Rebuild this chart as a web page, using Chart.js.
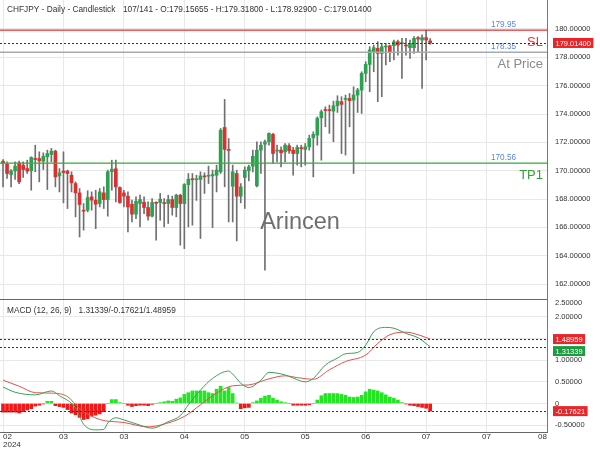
<!DOCTYPE html>
<html><head><meta charset="utf-8">
<script src="https://cdn.jsdelivr.net/npm/chart.js@4.4.1/dist/chart.umd.min.js"></script>
<style>
html,body{margin:0;padding:0;background:#fff;width:600px;height:450px;overflow:hidden}
canvas{position:absolute;left:0}
#c1{top:0}
#c2{top:300px}
</style></head><body>
<canvas id="c1" width="600" height="300"></canvas>
<canvas id="c2" width="600" height="150"></canvas>
<script>
// ---------------- DATA ----------------
const symbolTitle = 'CHFJPY - Daily - Candlestick';
const barInfo = '107/141 - O:179.15655 - H:179.31800 - L:178.92900 - C:179.01400';
const macdTitle = 'MACD (12, 26, 9)   1.31339/-0.17621/1.48959';
const watermark = 'Arincen';

const opens = [
170.67,170.46,169.73,169.99,170.55,170.39,170.15,169.99,170.86,170.86,
170.67,170.98,171.14,171.38,169.63,169.97,169.97,169.68,169.09,168.43,
167.21,167.21,168.15,167.92,167.68,168.43,167.96,169.92,170.13,168.81,
168.43,168.20,167.63,166.93,167.68,167.77,167.40,166.79,167.75,167.75,
167.75,167.68,167.96,167.40,168.27,167.68,169.02,169.40,169.36,169.38,
169.58,169.61,169.63,169.68,169.92,173.05,171.45,168.90,169.80,168.20,
169.52,169.99,170.32,168.93,171.45,171.87,172.04,172.56,171.38,171.45,
171.33,171.76,171.45,171.21,171.60,171.50,171.69,172.32,172.51,173.73,
174.30,174.30,174.20,174.58,174.87,175.03,175.10,174.98,175.34,175.69,
176.87,177.50,178.40,178.63,178.28,178.73,178.82,178.82,179.10,178.97,
178.85,178.68,178.68,179.39,179.22,179.39,179.15655];
const highs = [
170.79,170.62,170.08,170.62,170.67,170.62,170.74,170.98,171.80,171.33,
171.26,171.45,171.57,171.45,170.15,171.33,170.04,169.92,169.21,168.74,
167.68,168.58,168.50,168.62,168.74,168.86,170.04,170.74,170.74,168.86,
168.62,168.50,167.92,168.15,168.27,168.15,167.80,168.03,167.80,168.39,
168.03,168.27,168.20,168.34,168.34,169.09,169.80,169.80,169.68,169.92,
169.85,170.32,170.04,170.39,172.98,175.03,172.27,170.39,170.04,169.09,
170.27,170.39,171.45,172.04,172.04,172.16,172.67,172.63,171.80,171.69,
171.92,171.92,171.64,171.80,171.80,171.92,172.51,172.74,173.80,174.28,
174.51,174.63,174.91,175.29,175.22,175.34,175.45,175.92,175.81,176.98,
177.69,178.75,178.87,179.10,178.99,178.99,178.87,179.22,179.22,179.34,
179.34,179.22,179.46,179.46,179.58,179.93,179.318];
const lows = [
168.86,169.45,168.86,169.38,169.09,169.52,169.80,168.62,169.92,169.21,
170.08,168.67,170.62,168.86,168.50,167.73,167.33,168.50,166.74,165.32,
165.80,167.09,167.21,165.91,167.44,167.33,166.79,168.62,167.80,167.68,
167.44,165.68,166.38,166.62,166.03,166.97,166.50,166.74,165.09,166.50,
166.03,166.27,166.86,166.74,164.74,164.50,166.03,166.15,167.90,165.21,
168.39,169.09,165.98,168.50,169.80,168.86,166.38,166.38,165.04,167.73,
167.33,169.28,169.92,168.86,169.80,162.97,171.80,170.51,170.62,170.27,
170.62,171.21,169.68,170.39,170.27,170.39,171.45,169.56,171.80,170.74,
173.10,172.63,172.04,174.11,171.21,171.10,173.10,169.80,174.11,174.04,
176.28,175.57,176.98,174.87,175.22,177.46,177.69,177.81,178.16,176.51,
178.16,177.93,178.28,178.40,175.81,177.81,178.929];
const closes = [
170.51,169.80,169.99,170.32,169.21,170.08,169.97,170.93,170.79,170.69,
171.02,171.21,171.38,169.56,169.85,169.87,169.80,169.14,168.43,167.61,
167.14,168.10,167.92,167.63,168.50,167.96,169.92,170.11,168.86,167.75,
168.20,167.44,166.93,167.84,167.96,167.40,166.79,167.75,167.70,167.99,
167.68,167.96,167.40,168.27,167.68,169.02,169.40,169.36,169.40,169.63,
169.56,169.65,169.73,170.04,172.86,171.50,171.43,169.92,168.20,168.86,
170.04,170.27,171.02,171.45,171.80,172.04,172.63,171.21,171.40,171.26,
171.80,171.40,171.21,171.64,171.55,171.69,172.27,172.56,173.69,174.16,
174.25,174.24,174.58,174.91,174.68,175.08,174.94,175.34,175.69,176.87,
177.50,178.52,178.68,178.28,178.75,178.77,178.40,179.10,178.87,179.01,
178.80,178.99,179.34,179.29,179.39,179.22,179.014];

const lastPrice = 179.014;
const levelNames = ['SL', 'At Price', 'TP1'];
const levelValues = [179.95, 178.35, 170.56];

const priceTicks = [162, 164, 166, 168, 170, 172, 174, 176, 178, 180];
const xTickIdx = [0, 15, 30, 45, 60, 75, 90, 105, 120, 135];
const xTickLabels = ['02', '03', '03', '04', '05', '05', '06', '07', '07', '08'];
const yearLabel = '2024';

const histogram = [
-0.20,-0.20,-0.20,-0.20,-0.22,-0.19,-0.15,-0.12,-0.06,-0.04,
-0.01,0.05,0.05,-0.05,-0.07,-0.09,-0.14,-0.22,-0.26,-0.32,
-0.37,-0.35,-0.29,-0.27,-0.24,-0.19,0.00,0.09,0.09,0.02,
0.00,-0.04,-0.07,-0.05,-0.04,-0.04,-0.05,-0.02,0.00,0.02,
0.04,0.06,0.05,0.10,0.13,0.21,0.25,0.29,0.29,0.29,
0.29,0.25,0.23,0.33,0.40,0.29,0.37,0.23,0.01,-0.12,
-0.10,-0.09,0.02,0.06,0.12,0.17,0.19,0.12,0.08,0.04,
0.02,0.00,-0.04,-0.04,-0.04,-0.04,-0.03,0.00,0.08,0.18,
0.23,0.23,0.23,0.23,0.21,0.19,0.15,0.14,0.15,0.19,
0.27,0.33,0.31,0.29,0.25,0.20,0.15,0.12,0.08,0.02,
-0.01,-0.04,-0.05,-0.07,-0.09,-0.11,-0.17621];
const macdIdx = [0,3,8,12,14,18,20,23,25,26,28,30,33,37,41,44,46,49,52,56,57,59,61,64,66,70,72,75,77,80,83,85,88,90,92,95,97,100,103,106];
const macdVal = [0.38,0.26,0.20,0.29,0.18,-0.10,-0.48,-0.61,-0.60,-0.45,-0.33,-0.38,-0.47,-0.57,-0.42,-0.28,-0.03,0.31,0.58,0.75,0.68,0.47,0.37,0.54,0.72,0.66,0.59,0.50,0.58,0.89,1.05,1.15,1.18,1.35,1.66,1.76,1.74,1.62,1.52,1.31339];
const signalIdx = [0,4,8,12,16,19,24,30,36,39,45,49,53,57,61,66,70,73,77,81,85,90,93,96,100,103,106];
const signalVal = [0.54,0.40,0.25,0.24,0.16,-0.12,-0.37,-0.44,-0.54,-0.50,-0.30,-0.03,0.24,0.41,0.43,0.57,0.64,0.60,0.56,0.78,0.97,1.12,1.39,1.59,1.65,1.59,1.48959];
const macdTicks = [-0.5, 0, 0.5, 1, 1.5, 2];
const macdTopLabel = 2.5;
const macdLast = 1.31339, signalLast = 1.48959, histLast = -0.17621;

// ---------------- STYLE / LAYOUT ----------------
const FONT = '"Liberation Sans", Arial, Helvetica, sans-serif';
Chart.defaults.font.family = FONT;
const GREEN = '#2aa24f', RED = '#dc2f2f';
const GRID = '#e8e8e8';
const X_MIN = -0.75, X_MAX = 135;
const AXIS_W = 53;

function xScaleOpts(showLabels) {
  return {
    type: 'linear', min: X_MIN, max: X_MAX, offset: false,
    afterBuildTicks: s => { s.ticks = xTickIdx.map(v => ({ value: v })); },
    afterFit: s => { s.height = showLabels ? 18 : 0; s.paddingLeft = 0; s.paddingRight = 0; },
    grid: { color: GRID, drawTicks: false, offset: false },
    border: { display: showLabels, color: '#666', width: 1 },
    ticks: showLabels ? {
      display: true, autoSkip: false, maxRotation: 0, align: 'inner', padding: 1,
      color: '#333', font: { size: 8, lineHeight: 1.0 },
      callback: (v, i) => i === 0 ? [xTickLabels[i], yearLabel] : xTickLabels[i]
    } : { display: false }
  };
}
function yAfterFit(s) { s.width = AXIS_W; s.paddingTop = 0; s.paddingBottom = 0; }

const idx = opens.map((_, i) => i);

function drawTag(ctx, text, yc, color, x) {
  ctx.font = '7.5px ' + FONT;
  const w = ctx.measureText(text).width + 5;
  ctx.fillStyle = color;
  ctx.fillRect(x, yc - 5, w, 10);
  ctx.fillStyle = '#fff';
  ctx.textAlign = 'left'; ctx.textBaseline = 'middle';
  ctx.fillText(text, x + 2.5, yc + 0.5);
}

const LINE_COL = { 'SL': 'rgb(229,57,53)', 'At Price': 'rgb(170,170,170)', 'TP1': 'rgb(60,175,60)' };
const TEXT_COL = { 'SL': 'rgb(229,57,53)', 'At Price': 'rgb(138,138,138)', 'TP1': 'rgb(52,160,52)' };

const mainOverlay = {
  id: 'mainOverlay',
  beforeDatasetsDraw(chart) {
    const ctx = chart.ctx;
    ctx.save();
    ctx.font = '23.5px ' + FONT;
    ctx.fillStyle = 'rgba(95,95,95,0.9)';
    ctx.textAlign = 'center'; ctx.textBaseline = 'middle';
    ctx.fillText(watermark, 300, 223);
    ctx.restore();
  },
  afterDatasetsDraw(chart) {
    const { ctx, chartArea: a, scales: { y } } = chart;
    levelValues.forEach((v, k) => {
      const name = levelNames[k];
      const py = Math.round(y.getPixelForValue(v));
      ctx.save();
      ctx.setLineDash([]);
      ctx.fillStyle = LINE_COL[name];
      ctx.fillRect(a.left, py - 0.5, a.right - a.left, name === 'At Price' ? 1.5 : 1.3);
      ctx.font = '8.2px ' + FONT; ctx.fillStyle = '#5a86e0';
      ctx.textAlign = 'left'; ctx.textBaseline = 'middle';
      ctx.fillText(v.toFixed(2), 491, py - 5);
      ctx.font = '13px ' + FONT; ctx.fillStyle = TEXT_COL[name];
      ctx.textAlign = 'right';
      ctx.fillText(name, 543, py + 12);
      ctx.restore();
    });
    ctx.save();
    const pl = Math.round(y.getPixelForValue(lastPrice)) + 0.5;
    ctx.strokeStyle = '#333'; ctx.lineWidth = 1; ctx.setLineDash([2, 2]);
    ctx.beginPath(); ctx.moveTo(a.left, pl); ctx.lineTo(a.right, pl); ctx.stroke();
    ctx.restore();
  },
  afterDraw(chart) {
    const { ctx, chartArea: a, scales: { y } } = chart;
    ctx.save();
    ctx.font = '8.3px ' + FONT; ctx.fillStyle = '#333';
    ctx.textAlign = 'left'; ctx.textBaseline = 'middle';
    ctx.fillText(symbolTitle, 7, 10);
    ctx.fillText(barInfo, 123, 10);
    drawTag(ctx, lastPrice.toFixed(5), y.getPixelForValue(lastPrice), '#e8262a', a.right + 6);
    ctx.fillStyle = '#666';
    ctx.fillRect(0, a.bottom - 1, a.right, 1);
    ctx.restore();
  }
};

new Chart(document.getElementById('c1'), {
  type: 'bar',
  data: {
    datasets: [
      { data: idx.map(i => ({ x: i, y: [lows[i], highs[i]] })), backgroundColor: '#707070',
        barThickness: 1, grouped: false, order: 2 },
      { data: idx.map(i => ({ x: i, y: [opens[i], closes[i]] })),
        backgroundColor: idx.map(i => closes[i] >= opens[i] ? GREEN : RED),
        barThickness: 3, grouped: false, order: 1, minBarLength: 1 }
    ]
  },
  options: {
    responsive: false, animation: false, devicePixelRatio: 1,
    layout: { padding: 0 },
    plugins: { legend: { display: false }, tooltip: { enabled: false } },
    scales: {
      x: xScaleOpts(false),
      y: {
        position: 'right', min: 160.871, max: 182.047,
        afterBuildTicks: s => { s.ticks = priceTicks.map(v => ({ value: v })); },
        afterFit: yAfterFit,
        ticks: { callback: v => Number(v).toFixed(5), color: '#333', font: { size: 7.5 }, padding: 8 },
        grid: { color: GRID, drawTicks: false },
        border: { color: '#777', width: 1 }
      }
    }
  },
  plugins: [mainOverlay]
});

const macdOverlay = {
  id: 'macdOverlay',
  afterDatasetsDraw(chart) {
    const { ctx, chartArea: a, scales: { y } } = chart;
    ctx.save();
    ctx.strokeStyle = '#333'; ctx.lineWidth = 1; ctx.setLineDash([2, 2]);
    [signalLast, macdLast, histLast].forEach(v => {
      const py = Math.round(y.getPixelForValue(v)) + 0.5;
      ctx.beginPath(); ctx.moveTo(a.left, py); ctx.lineTo(a.right, py); ctx.stroke();
    });
    ctx.restore();
  },
  afterDraw(chart) {
    const { ctx, chartArea: a, scales: { y } } = chart;
    ctx.save();
    ctx.font = '8.3px ' + FONT; ctx.fillStyle = '#333';
    ctx.textAlign = 'left'; ctx.textBaseline = 'middle';
    ctx.fillText(macdTitle, 7, 10.7);
    ctx.font = '7.5px ' + FONT;
    ctx.fillText(macdTopLabel.toFixed(5), a.right + 8, a.top + 3);
    const tags = [
      { v: signalLast, c: '#e8262a' },
      { v: macdLast, c: '#1f9a44' },
      { v: histLast, c: '#e8262a' }
    ].map(t => ({ ...t, yc: y.getPixelForValue(t.v) })).sort((p, q) => p.yc - q.yc);
    for (let k = 1; k < tags.length; k++) {
      if (tags[k].yc < tags[k - 1].yc + 12) tags[k].yc = tags[k - 1].yc + 12;
    }
    tags.forEach(t => drawTag(ctx, t.v.toFixed(5), t.yc, t.c, a.right + 6));
    ctx.restore();
  }
};

new Chart(document.getElementById('c2'), {
  type: 'bar',
  data: {
    datasets: [
      { type: 'line', data: macdIdx.map((x, k) => ({ x, y: macdVal[k] })), borderColor: '#3a9f57',
        borderWidth: 1, pointRadius: 0, cubicInterpolationMode: 'monotone', order: 1 },
      { type: 'line', data: signalIdx.map((x, k) => ({ x, y: signalVal[k] })), borderColor: '#e5504f',
        borderWidth: 1, pointRadius: 0, cubicInterpolationMode: 'monotone', order: 2 },
      { type: 'bar', data: histogram.map((v, i) => ({ x: i, y: v })),
        backgroundColor: histogram.map(v => v >= 0 ? '#22e622' : '#f01818'),
        barThickness: 3, order: 3 }
    ]
  },
  options: {
    responsive: false, animation: false, devicePixelRatio: 1,
    layout: { padding: 0 },
    plugins: { legend: { display: false }, tooltip: { enabled: false } },
    scales: {
      x: xScaleOpts(true),
      y: {
        position: 'right', min: -0.659, max: 2.393,
        afterBuildTicks: s => { s.ticks = macdTicks.map(v => ({ value: v })); },
        afterFit: yAfterFit,
        ticks: { callback: v => v === 0 ? '0' : Number(v).toFixed(5), color: '#333', font: { size: 7.5 }, padding: 8 },
        grid: { color: GRID, drawTicks: false },
        border: { color: '#777', width: 1 }
      }
    }
  },
  plugins: [macdOverlay]
});
</script>
</body></html>
